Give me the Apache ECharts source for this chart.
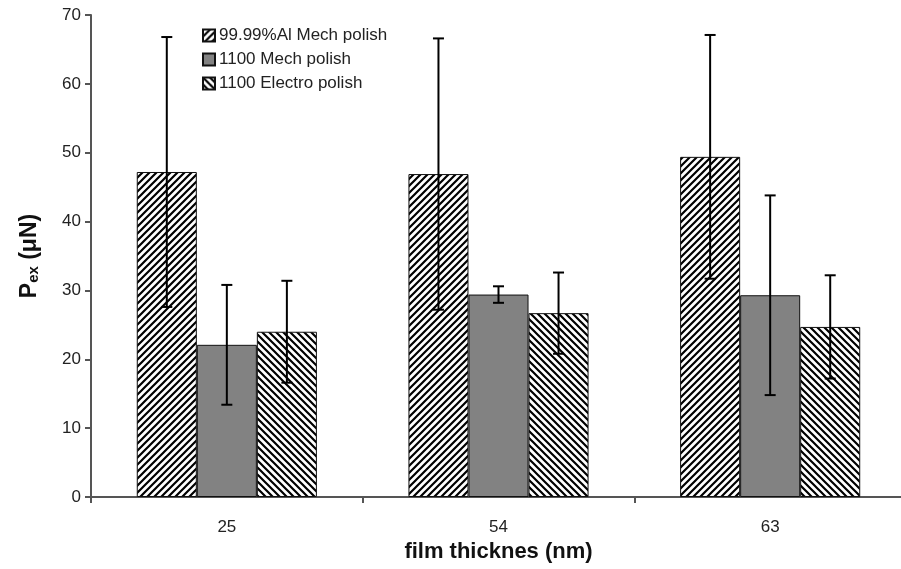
<!DOCTYPE html>
<html>
<head>
<meta charset="utf-8">
<script src="https://cdn.jsdelivr.net/npm/echarts@6/dist/echarts.min.js"></script>
<style>
  html, body { margin: 0; padding: 0; background: #fff; }
  #chart { width: 901px; height: 569px; }
</style>
</head>
<body>
<div id="chart"></div>
<script>
// Film thickness groups and measured Pex values (mean, ± error)
const categories = ['25', '54', '63'];
const seriesNames = ['99.99%Al Mech polish', '1100 Mech polish', '1100 Electro polish'];
const alMechMean = [47.2, 46.9, 49.4];
const alMechErr = [19.6, 19.7, 17.7];
const mechMean = [22.1, 29.4, 29.3];
const mechErr = [8.7, 1.2, 14.5];
const electroMean = [24.0, 26.7, 24.7];
const electroErr = [7.4, 5.9, 7.5];
const yTicks = [0, 10, 20, 30, 40, 50, 60, 70];

const means = [alMechMean, mechMean, electroMean];
const errs = [alMechErr, mechErr, electroErr];

// Diagonal hatch tile; dir = 1 for '/', -1 for '\'
function hatch(dir) {
  const s = 7;
  const c = document.createElement('canvas');
  c.width = s; c.height = s;
  const ctx = c.getContext('2d');
  ctx.fillStyle = '#fff';
  ctx.fillRect(0, 0, s, s);
  ctx.strokeStyle = '#000';
  ctx.lineWidth = 2.2;
  ctx.beginPath();
  for (let k = -1; k <= 1; k++) {
    if (dir > 0) {
      ctx.moveTo(k * s - 1, s + 1);
      ctx.lineTo(k * s + s + 1, -1);
    } else {
      ctx.moveTo(k * s - 1, -1);
      ctx.lineTo(k * s + s + 1, s + 1);
    }
  }
  ctx.stroke();
  return c;
}

const fills = [
  { image: hatch(1), repeat: 'repeat' },
  '#828282',
  { image: hatch(-1), repeat: 'repeat' }
];

const GAP = 0.337; // category gap fraction

const barSeries = seriesNames.map((name, i) => ({
  name: name,
  type: 'bar',
  data: means[i],
  barGap: '0%',
  barCategoryGap: (GAP * 100) + '%',
  itemStyle: { color: fills[i], borderColor: '#111', borderWidth: 1 },
  emphasis: { disabled: true }
}));

const errorSeries = seriesNames.map((name, i) => ({
  type: 'custom',
  name: name + ' err',
  silent: true,
  z: 10,
  data: categories.map((c, j) => [j, means[i][j], errs[i][j]]),
  renderItem: function (params, api) {
    const j = api.value(0);
    const m = api.value(1);
    const e = api.value(2);
    const catW = api.size([1, 0])[0];
    const barW = catW * (1 - GAP) / 3;
    const cx = api.coord([j, 0])[0] + (i - 1) * barW;
    const yTop = api.coord([j, m + e])[1];
    const yBot = api.coord([j, m - e])[1];
    const cap = 5.5;
    const st = { stroke: '#000', lineWidth: 2 };
    return {
      type: 'group',
      children: [
        { type: 'line', shape: { x1: cx, y1: yTop, x2: cx, y2: yBot }, style: st },
        { type: 'line', shape: { x1: cx - cap, y1: yTop, x2: cx + cap, y2: yTop }, style: st },
        { type: 'line', shape: { x1: cx - cap, y1: yBot, x2: cx + cap, y2: yBot }, style: st }
      ]
    };
  }
}));

const chart = echarts.init(document.getElementById('chart'), null, { renderer: 'canvas' });
const font = 'Liberation Sans, Arial, sans-serif';

chart.setOption({
  animation: false,
  backgroundColor: '#fff',
  textStyle: { fontFamily: font },
  grid: { left: 91, top: 15, width: 815, height: 482, containLabel: false, outerBoundsMode: 'none' },
  legend: {
    data: seriesNames,
    orient: 'vertical',
    left: 197,
    top: 22,
    itemWidth: 12,
    itemHeight: 12,
    itemGap: 7,
    icon: 'rect',
    textStyle: { fontSize: 17, color: '#222', fontFamily: font, padding: [0, 0, 0, -1] }
  },
  xAxis: {
    type: 'category',
    data: categories,
    name: 'film thicknes (nm)',
    nameLocation: 'middle',
    nameGap: 43,
    nameTextStyle: { fontSize: 22, fontWeight: 'bold', color: '#111', fontFamily: font },
    axisLine: { lineStyle: { color: '#555', width: 2 } },
    axisTick: { show: true, length: 6, lineStyle: { color: '#555', width: 2 } },
    axisLabel: { fontSize: 17, color: '#222', margin: 22 },
    splitLine: { show: false }
  },
  yAxis: {
    type: 'value',
    min: yTicks[0],
    max: yTicks[yTicks.length - 1],
    interval: 10,
    name: '{p|P}{s|ex}{p| (μN)}',
    nameLocation: 'middle',
    nameRotate: 90,
    nameGap: 50,
    nameTextStyle: {
      rich: {
        p: { fontSize: 23, fontWeight: 'bold', color: '#111', fontFamily: font },
        s: { fontSize: 15, fontWeight: 'bold', color: '#111', fontFamily: font, verticalAlign: 'bottom', padding: [7, 0, 0, 0] }
      }
    },
    axisLine: { show: true, lineStyle: { color: '#555', width: 2 } },
    axisTick: { show: true, length: 6, lineStyle: { color: '#555', width: 2 } },
    axisLabel: { fontSize: 17, color: '#222', margin: 10 },
    splitLine: { show: false }
  },
  series: barSeries.concat(errorSeries)
});
</script>
</body>
</html>
